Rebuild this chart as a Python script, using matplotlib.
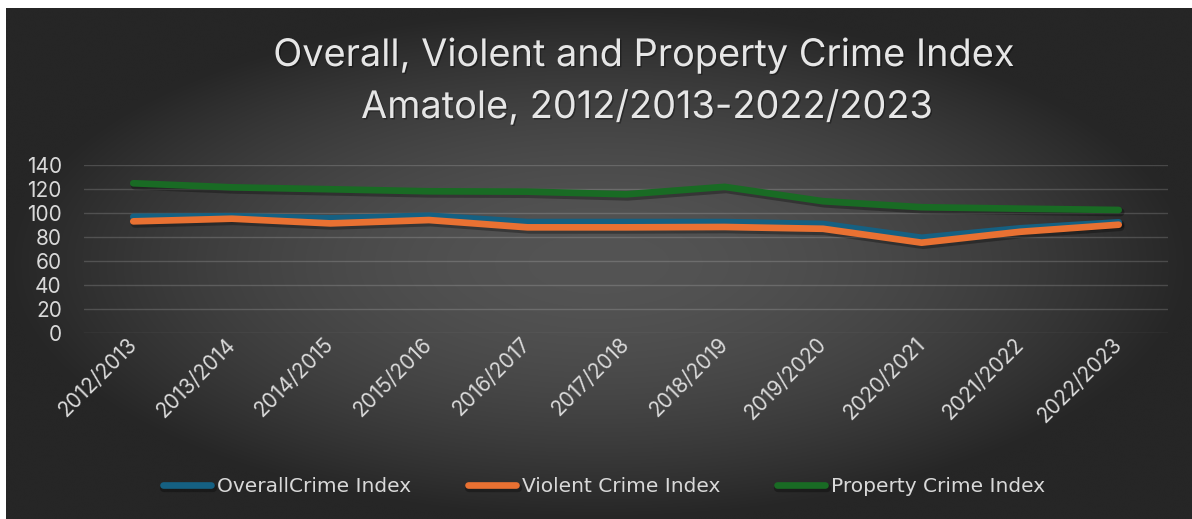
import numpy as np
import matplotlib
matplotlib.use('Agg')
import matplotlib.pyplot as plt
import matplotlib.patheffects as pe

# Crime index series for Amatole
years = ['2012/2013', '2013/2014', '2014/2015', '2015/2016', '2016/2017',
         '2017/2018', '2018/2019', '2019/2020', '2020/2021', '2021/2022',
         '2022/2023']
overall_crime = [97.0, 97.5, 95.7, 97.9, 92.6, 92.6, 92.6, 91.0, 79.5, 87.4, 92.4]
violent_crime = [93.2, 95.4, 91.5, 94.3, 88.2, 88.2, 88.5, 87.0, 75.4, 84.5, 90.4]
property_crime = [125.0, 121.6, 120.0, 118.3, 118.0, 115.8, 122.0, 110.0, 105.0, 103.8, 102.7]
y_ticks = [0, 20, 40, 60, 80, 100, 120, 140]

series = [
    ('OverallCrime Index', overall_crime, '#156082'),
    ('Violent Crime Index', violent_crime, '#E97132'),
    ('Property Crime Index', property_crime, '#196B24'),
]

W, H = 1192, 519
fig = plt.figure(figsize=(W / 100, H / 100), dpi=100, facecolor='white')

# dark radial gradient behind the chart
bg = fig.add_axes([6 / W, 0, 1 - 6 / W, 1 - 8 / H], zorder=-5)
gx, gy = np.meshgrid(np.linspace(-1, 1, 600), np.linspace(-1, 1, 300))
r = np.clip(np.sqrt(gx ** 2 + gy ** 2), 0, 1)
shade = (38 + (84 - 38) * (1 - r ** 1.8)) / 255.0
bg.imshow(np.dstack([shade, shade, shade]), aspect='auto', extent=(0, 1, 0, 1),
          interpolation='bicubic')
bg.axis('off')

ax = fig.add_axes([84 / W, 1 - 333 / H, (1168 - 84) / W, (333 - 165.3) / H])
ax.set_facecolor('none')
x = np.arange(len(years))
shadow = [pe.SimpleLineShadow(offset=(1.2, -1.6), shadow_color='black', alpha=0.3,
                              linewidth=6.0),
          pe.Normal()]
for i, (name, vals, color) in enumerate(series):
    ax.plot(x, vals, color=color, lw=4.8, solid_capstyle='round',
            solid_joinstyle='round', label=name, zorder=3 + i,
            path_effects=shadow)

ax.set_xlim(-0.5, len(years) - 0.5)
ax.set_ylim(0, 140)
ax.set_yticks(y_ticks)
ax.yaxis.grid(True, color='white', alpha=0.16, lw=1.0)
ax.set_axisbelow(True)
for s in ax.spines.values():
    s.set_visible(False)

txt = '#d9d9d9'
font = ['Inter', 'DejaVu Sans']
ax.set_xticks(x)
ax.set_xticklabels(years, rotation=45, ha='right', va='center',
                   rotation_mode='anchor', family=font, fontsize=15, color=txt)
ax.tick_params(axis='x', length=0, pad=6)
ax.tick_params(axis='y', length=0, pad=16, labelcolor=txt, labelsize=15)
for lab in ax.get_yticklabels():
    lab.set_family(font)

title_fx = [pe.withSimplePatchShadow(offset=(1, -1), shadow_rgbFace='black', alpha=0.35)]
fig.text(643 / W, 1 - 66 / H, 'Overall, Violent and Property Crime Index',
         ha='center', va='baseline', fontsize=27.3, color='#e6e6e6', family=font,
         path_effects=title_fx)
fig.text(647 / W, 1 - 118 / H, 'Amatole, 2012/2013-2022/2023',
         ha='center', va='baseline', fontsize=27.3, color='#e6e6e6', family=font,
         path_effects=title_fx)

leg = fig.legend(loc='center', bbox_to_anchor=(604 / W, 1 - 487 / H), ncol=3,
                 frameon=False, handlelength=2.4, handletextpad=0.3,
                 columnspacing=2.8, prop={'family': 'DejaVu Sans', 'size': 14.5})
for t in leg.get_texts():
    t.set_color(txt)
for h in leg.get_lines():
    h.set_linewidth(4.8)
    h.set_solid_capstyle('round')

fig.savefig('out.png', dpi=100, facecolor=fig.get_facecolor())
